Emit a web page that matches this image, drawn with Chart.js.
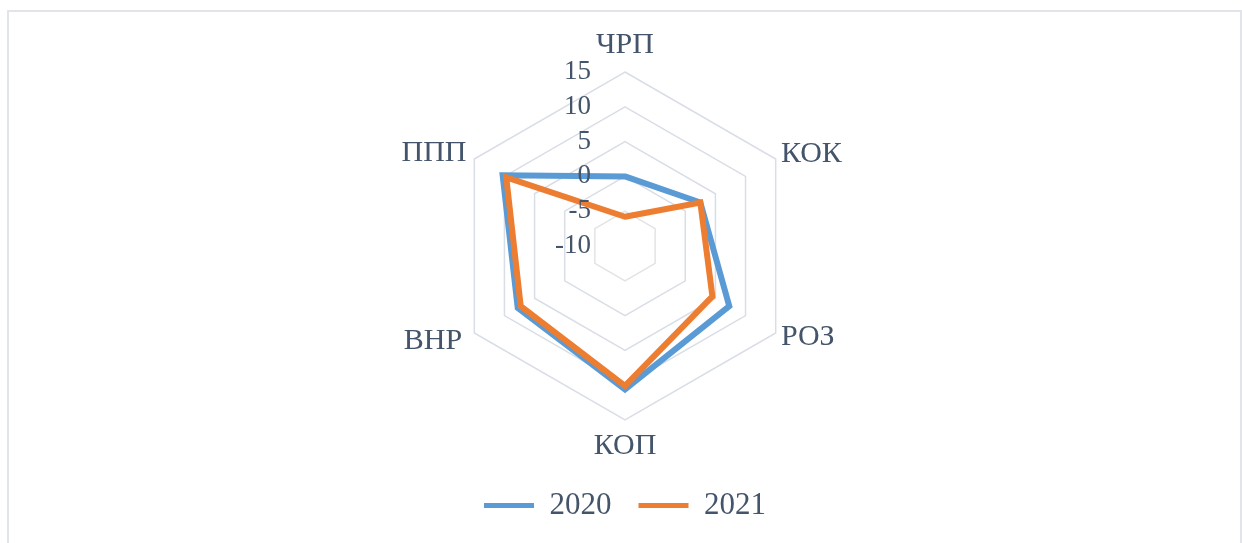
<!DOCTYPE html>
<html>
<head>
<meta charset="utf-8">
<script src="https://cdn.jsdelivr.net/npm/chart.js@4.4.1/dist/chart.umd.min.js"></script>
<style>
  html, body { margin: 0; padding: 0; background: #ffffff; }
  #wrap { position: relative; width: 1242px; height: 543px; overflow: hidden; }
  canvas { position: absolute; left: 0; top: 0; }
  #frame {
    position: absolute; left: 7px; top: 10px; width: 1231px; height: 540px;
    border: 2px solid #e1e5ea; border-bottom: none; pointer-events: none;
  }
</style>
</head>
<body>
<div id="wrap">
  <canvas id="chart" width="1242" height="543"></canvas>
  <div id="frame"></div>
</div>
<script>
// Indicators on the radar axes, clockwise from the top
const categories = ['ЧРП', 'КОК', 'РОЗ', 'КОП', 'ВНР', 'ППП'];
const values2020 = [0, 2.5, 7.3, 10.6, 7.8, 10.3];
const values2021 = [-5.8, 2.5, 4.5, 10.1, 7.3, 9.7];
const seriesNames = ['2020', '2021'];
const tickValues = [-10, -5, 0, 5, 10, 15];
const tickLabels = ['-10', '-5', '0', '5', '10', '15'];

const TEXT = '#44546a';
const FONT = "'Liberation Serif', 'Times New Roman', serif";

// Value labels sit to the left of the vertical axis, right-aligned
const sideTicks = {
  id: 'sideTicks',
  afterDatasetsDraw(chart) {
    const s = chart.scales.r;
    const ctx = chart.ctx;
    ctx.save();
    ctx.font = '27px ' + FONT;
    ctx.fillStyle = TEXT;
    ctx.textAlign = 'right';
    ctx.textBaseline = 'middle';
    tickValues.forEach((v, i) => {
      const y = s.yCenter - s.getDistanceFromCenterForValue(v);
      ctx.fillText(tickLabels[i], s.xCenter - 34, y);
    });
    ctx.restore();
  }
};

const labelPadding = [25, 6, 6, 25, 14, 9];

new Chart(document.getElementById('chart'), {
  type: 'radar',
  data: {
    labels: categories,
    datasets: [
      {
        label: seriesNames[0],
        data: values2020,
        borderColor: '#5b9bd5',
        backgroundColor: '#5b9bd5',
        borderWidth: 6,
        pointRadius: 0,
        pointHoverRadius: 0,
        fill: false,
        borderJoinStyle: 'miter',
        order: 1
      },
      {
        label: seriesNames[1],
        data: values2021,
        borderColor: '#ed7d31',
        backgroundColor: '#ed7d31',
        borderWidth: 6,
        pointRadius: 0,
        pointHoverRadius: 0,
        fill: false,
        borderJoinStyle: 'miter',
        order: 0
      }
    ]
  },
  options: {
    responsive: false,
    animation: false,
    devicePixelRatio: 1,
    layout: { padding: { top: 44, bottom: 12, left: 8, right: 0 } },
    scales: {
      r: {
        min: -10,
        max: 15,
        beginAtZero: false,
        ticks: { display: false, stepSize: 5 },
        angleLines: { display: false },
        grid: {
          color: (c) => (c.tick && c.tick.value === -5 ? '#e3e3e3' : '#d9dee6'),
          lineWidth: 1.5
        },
        pointLabels: {
          color: TEXT,
          font: { family: FONT, size: 30, lineHeight: 0.1 },
          padding: (c) => labelPadding[c.index]
        }
      }
    },
    plugins: {
      tooltip: { enabled: false },
      legend: {
        position: 'bottom',
        title: { display: true, text: '', padding: { top: 14, bottom: 0 }, font: { size: 1, lineHeight: 1 } },
        labels: {
          boxWidth: 50,
          boxHeight: 5,
          padding: 27,
          color: TEXT,
          font: { family: FONT, size: 31 },
          generateLabels: (chart) => chart.data.datasets.map((d, i) => ({
            text: d.label,
            fillStyle: d.borderColor,
            strokeStyle: d.borderColor,
            lineWidth: 0,
            hidden: false,
            datasetIndex: i,
            fontColor: TEXT
          }))
        }
      }
    }
  },
  plugins: [sideTicks]
});
</script>
</body>
</html>
